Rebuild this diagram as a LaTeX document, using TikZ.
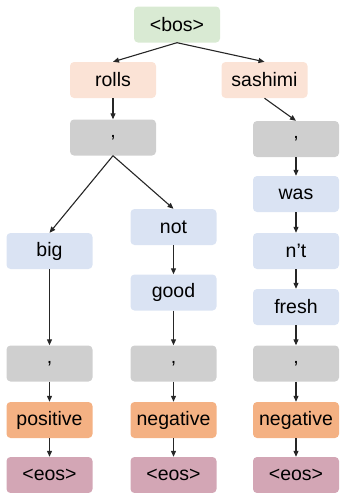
\documentclass[tikz,border=0pt]{standalone}
\usepackage{fontspec}
\setmainfont{Liberation Sans}
\usetikzlibrary{arrows.meta}
\definecolor{bosgreen}{HTML}{D9EAD3}
\definecolor{peach}{HTML}{FBE3D6}
\definecolor{sepgray}{HTML}{CFCFCF}
\definecolor{wordblue}{HTML}{DAE3F3}
\definecolor{labelorange}{HTML}{F4B183}
\definecolor{eosmauve}{HTML}{D3A6B5}
\begin{document}
\begin{tikzpicture}[x=1pt,y=-1pt,
  tok/.style={rounded corners=4pt, minimum width=86pt, minimum height=36pt,
    inner sep=0pt, font=\fontsize{19.5}{21}\selectfont},
  bosbox/.style={tok, fill=bosgreen},
  aspect/.style={tok, fill=peach},
  sepbox/.style={tok, fill=sepgray},
  wordbox/.style={tok, fill=wordblue},
  polarity/.style={tok, fill=labelorange},
  eosbox/.style={tok, fill=eosmauve},
  link/.style={-{Triangle[length=6pt,width=5pt]}, line width=1.1pt, black!85}]
\useasboundingbox (0,0) rectangle (341,493);

% root and aspects
\node[bosbox] (bos) at (177,24.5) {<bos>};
\node[aspect] (rolls) at (113,80) {rolls};
\node[aspect] (sashimi) at (264.5,80) {sashimi};

% left branch
\node[sepbox] (c1) at (113,137.5) {,};
\node[wordbox] (big) at (49.5,251) {big};
\node[wordbox] (not) at (173.5,227) {not};
\node[wordbox] (good) at (173.5,292.5) {good};

% right branch
\node[sepbox] (c2) at (296,139) {,};
\node[wordbox] (was) at (296,194) {was};
\node[wordbox] (nt) at (296,251) {n’t};
\node[wordbox] (fresh) at (296,307) {fresh};

% closing separators
\node[sepbox] (s1) at (49.5,363.5) {,};
\node[sepbox] (s2) at (173.5,363.5) {,};
\node[sepbox] (s3) at (296,363.5) {,};

% polarity labels
\node[polarity] (p1) at (49.5,420) {positive};
\node[polarity] (p2) at (173.5,420) {negative};
\node[polarity] (p3) at (296,420) {negative};

% end tokens
\node[eosbox] (e1) at (49.5,475) {<eos>};
\node[eosbox] (e2) at (173.5,475) {<eos>};
\node[eosbox] (e3) at (296,475) {<eos>};

% connectors
\draw[link] (bos.south) -- (rolls.north);
\draw[link] (bos.south) -- (sashimi.north);
\draw[link] (rolls) -- (c1);
\draw[link] (sashimi.south) -- (c2.north);
\draw[link] (c1.south) -- (big.north);
\draw[link] (c1.south) -- (not.north);
\draw[link] (not) -- (good);
\draw[link] (c2) -- (was);
\draw[link] (was) -- (nt);
\draw[link] (nt) -- (fresh);
\draw[link] (big) -- (s1);
\draw[link] (good) -- (s2);
\draw[link] (fresh) -- (s3);
\draw[link] (s1) -- (p1);
\draw[link] (s2) -- (p2);
\draw[link] (s3) -- (p3);
\draw[link] (p1) -- (e1);
\draw[link] (p2) -- (e2);
\draw[link] (p3) -- (e3);
\end{tikzpicture}
\end{document}
